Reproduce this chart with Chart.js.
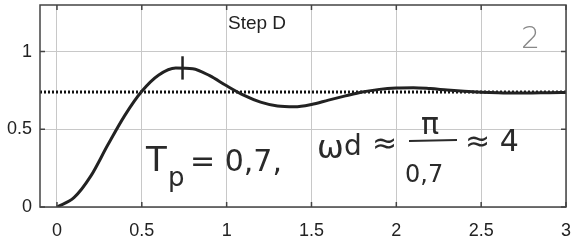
<!DOCTYPE html>
<html>
<head>
<meta charset="utf-8">
<script src="https://cdn.jsdelivr.net/npm/chart.js@4"></script>
<style>
  html, body { margin: 0; padding: 0; background: #fff; }
  #wrap { width: 579px; height: 249px; }
</style>
</head>
<body>
<div id="wrap"><canvas id="stepChart"></canvas></div>
<script>
// step response
const timeValues = [0, 0.1, 0.2, 0.3, 0.4, 0.5, 0.6, 0.7, 0.8, 0.9, 1.0,
    1.1, 1.2, 1.3, 1.4, 1.5, 1.6, 1.7, 1.8, 1.9, 2.0,
    2.1, 2.2, 2.3, 2.4, 2.5, 2.6, 2.7, 2.8, 2.9, 3.0];
const responseValues = [0, 0.06, 0.2, 0.4, 0.59, 0.745, 0.85, 0.895, 0.89, 0.845, 0.78,
    0.72, 0.675, 0.65, 0.645, 0.66, 0.688, 0.715, 0.74, 0.757, 0.766,
    0.768, 0.762, 0.753, 0.745, 0.739, 0.735, 0.733, 0.734, 0.736, 0.737];
const finalValue = 0.74;
const finalLineX = [-0.1, 3];
const peakMarkX = [0.74, 0.74];
const peakMarkY = [0.82, 0.97];
const xTicks = [0, 0.5, 1, 1.5, 2, 2.5, 3];
const yTicks = [0, 0.5, 1];

const ctx = document.getElementById('stepChart');

const frame = {
    id: 'frame',
    beforeDraw(chart) {
        const c = chart.ctx;
        c.save();
        c.fillStyle = '#fff';
        c.fillRect(0, 0, chart.width, chart.height);
        c.restore();
    },
    afterDatasetsDraw(chart) {
        const c = chart.ctx;
        const a = chart.chartArea;
        const xs = chart.scales.x, ys = chart.scales.y;
        c.save();
        c.strokeStyle = '#444';
        c.lineWidth = 1.5;
        c.strokeRect(a.left, a.top, a.right - a.left, a.bottom - a.top);
        c.beginPath();
        xTicks.forEach(v => {
            const px = xs.getPixelForValue(v);
            c.moveTo(px, a.bottom); c.lineTo(px, a.bottom - 5);
            c.moveTo(px, a.top); c.lineTo(px, a.top + 5);
        });
        yTicks.forEach(v => {
            const py = ys.getPixelForValue(v);
            c.moveTo(a.left, py); c.lineTo(a.left + 5, py);
            c.moveTo(a.right, py); c.lineTo(a.right - 5, py);
        });
        c.stroke();

        // title inside the axes
        c.fillStyle = '#222';
        c.font = '19px "Liberation Sans", Arial, sans-serif';
        c.textBaseline = 'middle';
        c.textAlign = 'left';
        c.fillText('Step D', 228, 24);

        // handwritten notes
        c.fillStyle = '#888';
        c.font = '300 30px "DejaVu Sans", sans-serif';
        c.fillText('2', 521, 40);

        c.fillStyle = '#2a2a2a';
        c.textBaseline = 'alphabetic';
        c.font = '34px "DejaVu Sans", sans-serif';
        c.fillText('T', 146, 171);
        c.font = '26px "DejaVu Sans", sans-serif';
        c.fillText('p', 168, 186);
        c.font = '30px "DejaVu Sans", sans-serif';
        c.fillText('= 0,7,', 190, 171);
        c.font = '32px "DejaVu Sans", sans-serif';
        c.fillText('ω', 317, 158);
        c.font = '28px "DejaVu Sans", sans-serif';
        c.fillText('d', 344, 155);
        c.font = '30px "DejaVu Sans", sans-serif';
        c.fillText('≈', 372, 153);
        c.fillText('π', 421, 134);
        c.font = '24px "DejaVu Sans", sans-serif';
        c.fillText('0,7', 405, 182);
        c.font = '30px "DejaVu Sans", sans-serif';
        c.fillText('≈ 4', 465, 151);
        c.lineWidth = 2;
        c.strokeStyle = '#2a2a2a';
        c.beginPath();
        c.moveTo(409, 141); c.lineTo(457, 140);
        c.stroke();
        c.restore();
    }
};

new Chart(ctx, {
    type: 'line',
    data: {
        datasets: [{
            data: timeValues.map((t, i) => ({ x: t, y: responseValues[i] })),
            borderColor: '#222',
            borderWidth: 3,
            pointRadius: 0,
            tension: 0.4,
            cubicInterpolationMode: 'monotone'
        }, {
            data: finalLineX.map(t => ({ x: t, y: finalValue })),
            borderColor: '#111',
            borderWidth: 3,
            borderDash: [2, 2],
            pointRadius: 0
        }, {
            data: peakMarkX.map((t, i) => ({ x: t, y: peakMarkY[i] })),
            borderColor: '#222',
            borderWidth: 2.5,
            pointRadius: 0
        }]
    },
    options: {
        responsive: true,
        maintainAspectRatio: false,
        animation: false,
        layout: { padding: { top: 5, right: 13, left: 0, bottom: 0 } },
        plugins: {
            legend: { display: false },
            tooltip: { enabled: false }
        },
        scales: {
            x: {
                type: 'linear',
                min: -0.1,
                max: 3,
                afterBuildTicks: (s) => { s.ticks = xTicks.map(v => ({ value: v })); },
                afterFit: (s) => {
                    s.height = 42;
                    s.paddingLeft = 0; s.paddingRight = 0;
                },
                border: { display: false },
                grid: { color: '#c8c8c8', borderDash: [1, 2], drawTicks: false },
                ticks: {
                    padding: 13,
                    color: '#222',
                    font: { family: '"Liberation Sans", Arial, sans-serif', size: 18 },
                    maxRotation: 0,
                    callback: (v) => String(v)
                }
            },
            y: {
                min: 0,
                max: 1.3,
                afterBuildTicks: (s) => { s.ticks = yTicks.map(v => ({ value: v })); },
                afterFit: (s) => {
                    s.width = 40;
                    s.paddingTop = 0; s.paddingBottom = 0;
                },
                border: { display: false },
                grid: { color: '#c8c8c8', borderDash: [1, 2], drawTicks: false },
                ticks: {
                    padding: 8,
                    color: '#222',
                    font: { family: '"Liberation Sans", Arial, sans-serif', size: 18 },
                    callback: (v) => String(v)
                }
            }
        }
    },
    plugins: [frame]
});
</script>
</body>
</html>
